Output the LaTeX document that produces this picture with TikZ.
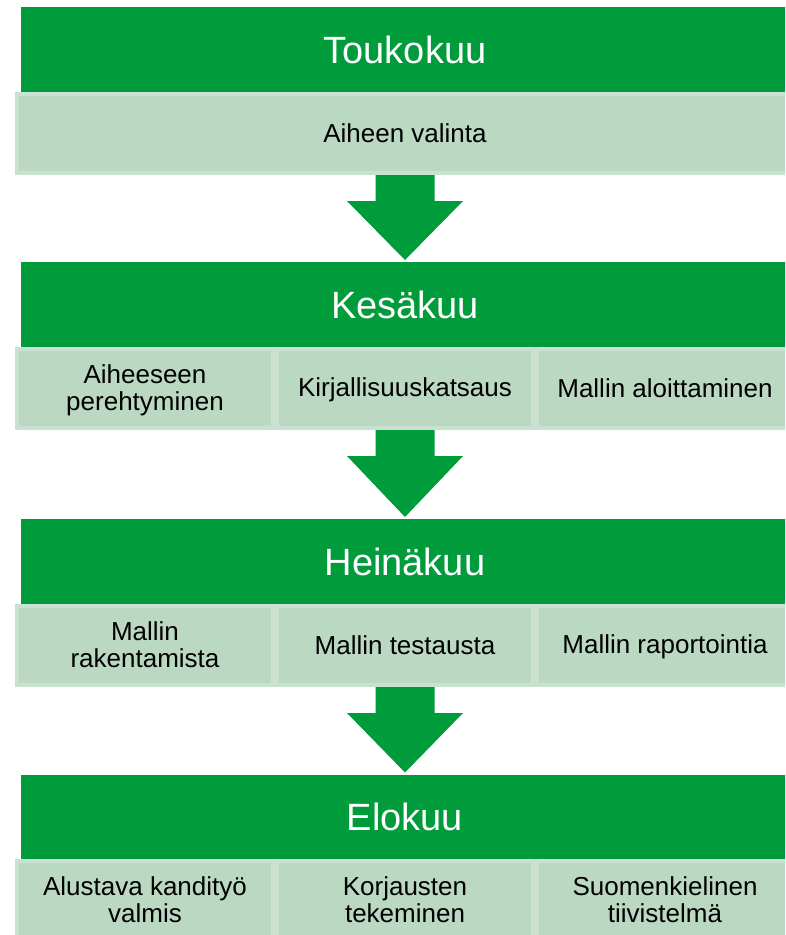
\documentclass[tikz,border=0pt]{standalone}
\usepackage{fontspec}
\setmainfont{Liberation Sans}
\usetikzlibrary{calc}
\definecolor{hdr}{RGB}{0,155,58}
\definecolor{cellfill}{RGB}{186,216,194}
\definecolor{cellline}{RGB}{202,224,208}
\newcommand{\ls}{\rule[-4.5pt]{0pt}{26pt}}
\begin{document}
\begin{tikzpicture}[x=1pt,y=-1pt,
  hdrbox/.style={fill=hdr, text=white, minimum width=768pt, minimum height=85pt,
    inner sep=0pt, outer sep=0pt, font=\fontsize{38}{44}\selectfont},
  cellbox/.style={fill=cellfill, draw=cellline, line width=4pt, inner sep=0pt, outer sep=0pt,
    minimum height=79pt, minimum width=256pt, align=center, text=black,
    font=\fontsize{26}{27}\selectfont},
  widecell/.style={cellbox, minimum width=776pt},
  blockarrow/.style={fill=hdr}
]
\useasboundingbox (0,0) rectangle (785,935);
\clip (0,0) rectangle (785,935);

% headers
\node[hdrbox] (h1) at (405,49.5) {Toukokuu};
\node[hdrbox] (h2) at (405,304.5) {Kesäkuu};
\node[hdrbox] (h3) at (405,561.5) {Heinäkuu};
\node[hdrbox] (h4) at (405,817) {Elokuu};

% rows
\node[widecell] (r1) at (405,133.5) {\ls Aiheen valinta};

\node[cellbox] (r2a) at (145,388.5) {\ls Aiheeseen\\\ls perehtyminen};
\node[cellbox] (r2b) at (405,388.5) {\ls Kirjallisuuskatsaus};
\node[cellbox] (r2c) at (665,388.5) {\ls Mallin aloittaminen};

\node[cellbox] (r3a) at (145,645.5) {\ls Mallin\\\ls rakentamista};
\node[cellbox] (r3b) at (405,645.5) {\ls Mallin testausta};
\node[cellbox] (r3c) at (665,645.5) {\ls Mallin raportointia};

\node[cellbox] (r4a) at (145,900.5) {\ls Alustava kandityö\\\ls valmis};
\node[cellbox] (r4b) at (405,900.5) {\ls Korjausten\\\ls tekeminen};
\node[cellbox] (r4c) at (665,900.5) {\ls Suomenkielinen\\\ls tiivistelmä};

% block arrows
\foreach \src/\dst in {r1/h2, r2b/h3, r3b/h4}{
  \fill[blockarrow]
    ($(\src.south)+(-29.5,2)$) -- ($(\src.south)+(29.5,2)$) --
    ($(\src.south)+(29.5,28)$) -- ($(\src.south)+(58,28)$) --
    ($(\dst.north)+(0,-2)$) --
    ($(\src.south)+(-58,28)$) -- ($(\src.south)+(-29.5,28)$) -- cycle;
}
\end{tikzpicture}
\end{document}
